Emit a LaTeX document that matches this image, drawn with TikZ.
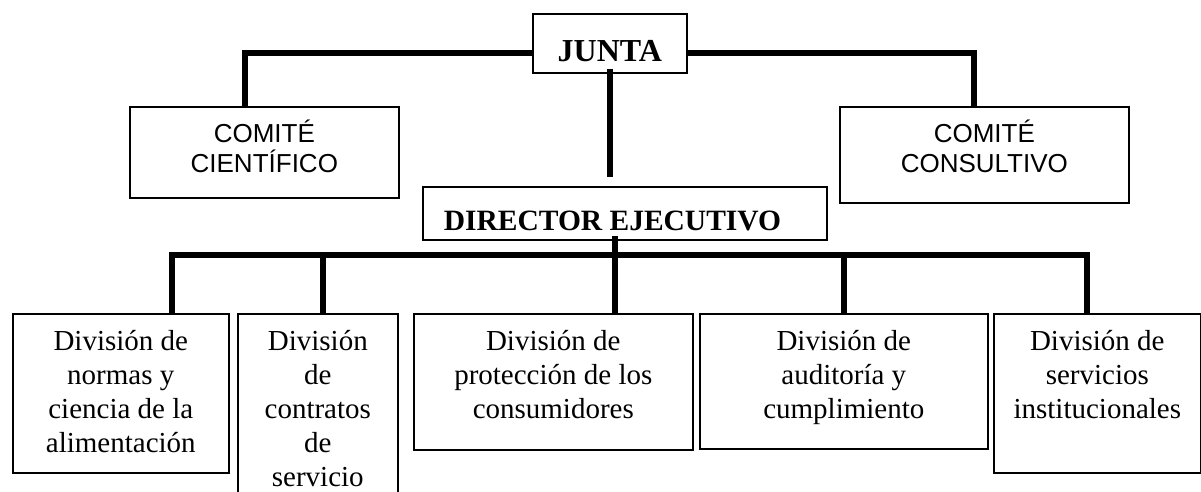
\documentclass[tikz,border=0pt]{standalone}
\usepackage{fontspec}
\setmainfont{Liberation Serif}
\setsansfont{Liberation Sans}
\usetikzlibrary{calc}
\newcommand{\orgbox}[6]{ \node[orgbox] (#1) at ( #2 , #3 ) {\parbox[t][#5pt][t]{#4pt}{#6}};}
\newcommand{\gap}[1]{\rule{0pt}{#1pt}}
\newcommand{\divtext}{\fontsize{29}{34}\selectfont\centering\gap{37}}
\newcommand{\comtext}{\sffamily\fontsize{26}{30}\selectfont\centering\gap{36}}

\begin{document}
\begin{tikzpicture}[x=1pt, y=-1pt,
    orgbox/.style={draw, line width=1.6pt, anchor=north west, inner sep=0pt},
    conn/.style={line width=6pt}]
        \fill[white] (0,0) rectangle (1201,491);
        \useasboundingbox (0,0) rectangle (1201,491);
        % top level
        \orgbox{junta}{532}{13}{154}{59}{\fontsize{32}{36}\selectfont\bfseries\centering\gap{48}JUNTA}
        \orgbox{cien}{129}{106}{269}{91}{\comtext COMITÉ\\CIENTÍFICO}
        \orgbox{cons}{839}{106}{289}{96}{\comtext COMITÉ\\CONSULTIVO}
        \orgbox{dir}{422}{186}{404}{53}{\fontsize{29.5}{34}\selectfont\bfseries\hspace*{21pt}\gap{44}DIRECTOR EJECUTIVO}
        % divisions
        \orgbox{d1}{12}{313}{216}{159}{\divtext División de\\normas y\\ciencia de la\\alimentación}
        \orgbox{d2}{237}{313}{160}{200}{\divtext División\\de\\contratos\\de\\servicio}
        \orgbox{d3}{413}{313}{279}{136}{\divtext División de\\protección de los\\consumidores}
        \orgbox{d4}{699}{313}{288}{135}{\divtext División de\\auditoría y\\cumplimiento}
        \orgbox{d5}{993}{313}{207}{159}{\divtext División de\\servicios\\institucionales}
        % connectors
        \draw[conn] ([yshift=-10pt]junta.west) -| ([xshift=-19pt]cien.north);
        \draw[conn] ([yshift=-10pt]junta.east) -| ([xshift=-10pt]cons.north);
        \draw[conn] ([yshift=5pt]junta.south) -- ([yshift=9pt]dir.north -| junta.south);
        \draw[conn] ([xshift=-10pt,yshift=5pt]dir.south) -- ([xshift=-10pt]dir.south |- d3.north);
        \draw[conn] ([xshift=51pt]d1.north) -- ++(0,-58) -| ([xshift=-10pt]d5.north);
        \draw[conn] ([xshift=5pt]d2.north) -- ++(0,-58);
        \draw[conn] (d4.north) -- ++(0,-58);
    \end{tikzpicture}
\end{document}
